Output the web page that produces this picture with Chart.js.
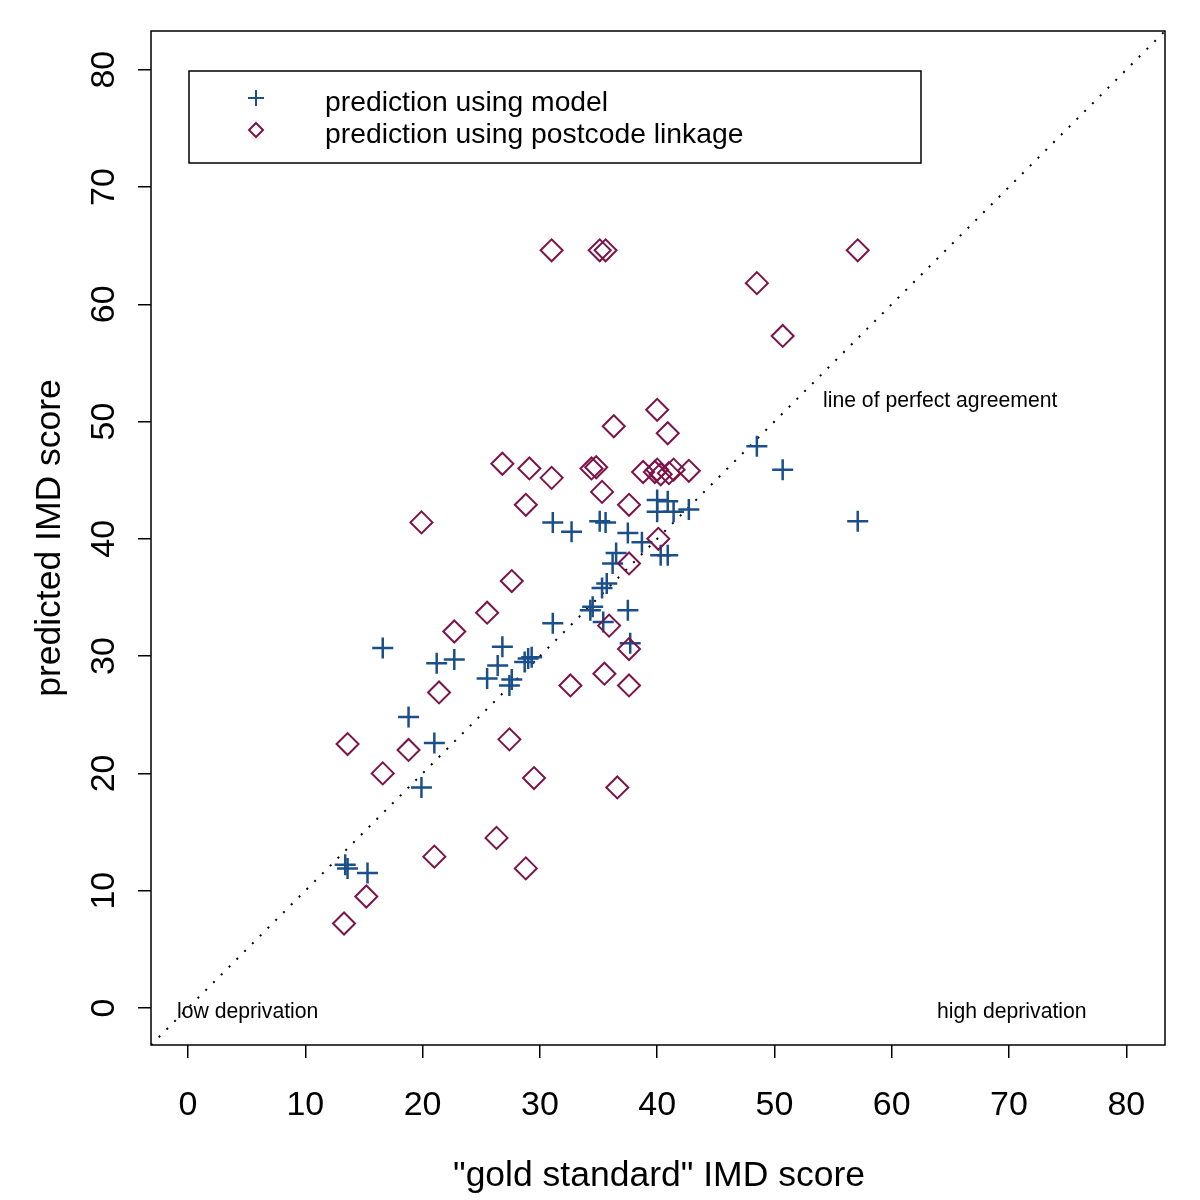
<!DOCTYPE html>
<html>
<head>
<meta charset="utf-8">
<script src="https://cdn.jsdelivr.net/npm/chart.js@4"></script>
<style>
  html, body { margin: 0; padding: 0; background: #fff; }
  canvas { display: block; }
</style>
</head>
<body>
<canvas id="imdChart" width="1200" height="1200"></canvas>
<script>
// --- data ---
const tickValues = [0, 10, 20, 30, 40, 50, 60, 70, 80];
const axisMin = -3.16;
const axisMax = 83.3;

// prediction using model (+)
const modelX = [57.1, 50.7, 48.5, 42.7, 41.4, 40.0, 40.0, 40.9, 40.3, 40.9, 38.7, 37.5, 36.5, 36.2,
  35.1, 35.6, 32.7, 31.1, 35.7, 35.3, 34.5, 34.3, 37.5, 35.4, 37.7, 31.1, 26.8, 26.4, 25.5, 27.6,
  27.4, 29.0, 29.3, 28.7, 16.6, 21.2, 22.7, 18.8, 21.0, 19.9, 13.4, 13.6, 15.3];
const modelY = [41.5, 45.9, 47.9, 42.5, 42.3, 43.3, 42.3, 43.2, 38.6, 38.6, 39.7, 40.5, 38.8, 37.9,
  41.5, 41.4, 40.6, 41.4, 36.2, 35.8, 34.2, 33.9, 33.9, 32.9, 31.1, 32.8, 30.8, 29.2, 28.1, 28.0,
  27.5, 29.8, 29.9, 29.5, 30.7, 29.4, 29.7, 24.8, 22.6, 18.8, 12.2, 11.9, 11.5];

// prediction using postcode linkage (diamond)
const linkX = [31.0, 35.1, 35.6, 57.1, 48.5, 50.7, 40.0, 36.3, 40.9, 26.8, 29.1, 31.0, 34.4, 34.8,
  38.8, 39.8, 40.0, 40.3, 41.0, 41.4, 42.7, 35.3, 37.6, 28.8, 19.9, 40.1, 27.6, 37.6, 25.5, 35.9,
  22.7, 37.6, 21.4, 32.6, 35.5, 37.6, 13.6, 27.4, 18.8, 16.6, 29.5, 36.6, 26.3, 21.0, 28.8, 15.2, 13.3];
const linkY = [64.6, 64.6, 64.6, 64.6, 61.8, 57.3, 51.0, 49.6, 49.0, 46.4, 46.0, 45.2, 46.0, 46.1,
  45.7, 45.7, 45.9, 45.5, 45.6, 45.9, 45.8, 44.0, 42.9, 42.9, 41.4, 40.0, 36.4, 37.9, 33.7, 32.6,
  32.1, 30.6, 26.9, 27.5, 28.5, 27.5, 22.5, 22.9, 22.0, 20.0, 19.6, 18.8, 14.5, 12.9, 11.9, 9.5, 7.2];

const blue = '#1b4f8a';
const maroon = '#7c1447';
const fontFamily = '"Liberation Sans", Arial, Helvetica, sans-serif';

const toPoints = (xs, ys) => xs.map((x, i) => ({ x: x, y: ys[i] }));

// R style frame, rotated y labels, titles, notes and legend
const decorations = {
  id: 'decorations',
  afterDraw(chart) {
    const ctx = chart.ctx;
    const area = chart.chartArea;
    const xs = chart.scales.x;
    const ys = chart.scales.y;
    ctx.save();

    ctx.strokeStyle = '#000';
    ctx.lineWidth = 1.5;
    ctx.strokeRect(area.left, area.top, area.right - area.left, area.bottom - area.top);

    ctx.fillStyle = '#000';
    ctx.font = '34px ' + fontFamily;

    // x tick labels
    ctx.textAlign = 'center';
    ctx.textBaseline = 'middle';
    tickValues.forEach(v => {
      ctx.fillText(String(v), xs.getPixelForValue(v), 1106);
    });

    // y tick labels, vertical like R
    tickValues.forEach(v => {
      ctx.save();
      ctx.translate(105, ys.getPixelForValue(v));
      ctx.rotate(-Math.PI / 2);
      ctx.fillText(String(v), 0, 0);
      ctx.restore();
    });

    // axis titles
    ctx.font = '35.5px ' + fontFamily;
    ctx.fillText('"gold standard" IMD score', 659, 1176);
    ctx.save();
    ctx.translate(50, 538);
    ctx.rotate(-Math.PI / 2);
    ctx.fillText('predicted IMD score', 0, 0);
    ctx.restore();

    // notes
    ctx.font = '21.2px ' + fontFamily;
    ctx.textAlign = 'left';
    ctx.fillText('line of perfect agreement', 823, 401);
    ctx.fillText('low deprivation', 177, 1012);
    ctx.fillText('high deprivation', 937, 1012);

    // legend
    ctx.lineWidth = 1.5;
    ctx.strokeRect(189, 71, 732, 92);
    ctx.strokeStyle = blue;
    ctx.lineWidth = 2;
    ctx.beginPath();
    ctx.moveTo(248, 98); ctx.lineTo(264, 98);
    ctx.moveTo(256, 90); ctx.lineTo(256, 106);
    ctx.stroke();
    ctx.strokeStyle = maroon;
    ctx.beginPath();
    ctx.moveTo(256, 123); ctx.lineTo(263, 130); ctx.lineTo(256, 137); ctx.lineTo(249, 130);
    ctx.closePath();
    ctx.stroke();
    ctx.font = '28.3px ' + fontFamily;
    ctx.fillText('prediction using model', 325, 103);
    ctx.fillText('prediction using postcode linkage', 325, 135);

    ctx.restore();
  }
};

const fixedTicks = scale => { scale.ticks = tickValues.map(v => ({ value: v })); };

new Chart(document.getElementById('imdChart'), {
  type: 'scatter',
  data: {
    datasets: [
      {
        label: 'prediction using postcode linkage',
        data: toPoints(linkX, linkY),
        pointStyle: 'rectRot',
        pointRadius: 11,
        borderColor: maroon,
        backgroundColor: 'rgba(0,0,0,0)',
        borderWidth: 2,
        order: 1
      },
      {
        label: 'prediction using model',
        data: toPoints(modelX, modelY),
        pointStyle: 'cross',
        pointRadius: 10.5,
        borderColor: blue,
        backgroundColor: blue,
        borderWidth: 2.5,
        order: 2
      },
      {
        type: 'line',
        label: 'line of perfect agreement',
        data: [{ x: axisMin, y: axisMin }, { x: axisMax, y: axisMax }],
        borderColor: '#000',
        borderWidth: 2,
        borderDash: [2, 9],
        pointRadius: 0,
        fill: false,
        order: 3
      }
    ]
  },
  options: {
    responsive: false,
    animation: false,
    layout: { padding: { top: 31, right: 35, left: 0, bottom: 0 } },
    plugins: {
      legend: { display: false },
      tooltip: { enabled: false }
    },
    scales: {
      x: {
        type: 'linear',
        min: axisMin,
        max: axisMax,
        afterBuildTicks: fixedTicks,
        afterFit: scale => { scale.height = 155; },
        ticks: { display: false },
        border: { display: false },
        grid: { drawOnChartArea: false, drawTicks: true, tickLength: 13, color: '#000', lineWidth: 1.5 }
      },
      y: {
        type: 'linear',
        min: axisMin,
        max: axisMax,
        afterBuildTicks: fixedTicks,
        afterFit: scale => { scale.width = 151; },
        ticks: { display: false },
        border: { display: false },
        grid: { drawOnChartArea: false, drawTicks: true, tickLength: 13, color: '#000', lineWidth: 1.5 }
      }
    }
  },
  plugins: [decorations]
});
</script>
</body>
</html>
